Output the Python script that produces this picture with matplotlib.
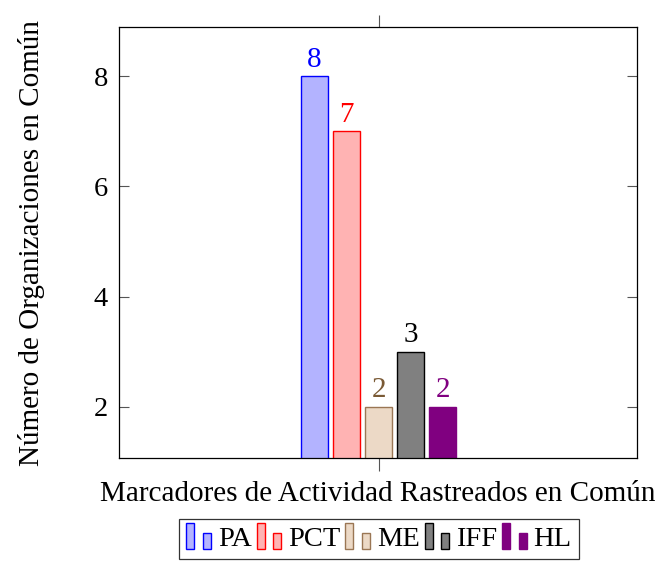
import matplotlib
matplotlib.use("Agg")
import matplotlib.pyplot as plt
from matplotlib.patches import Rectangle
from matplotlib.legend_handler import HandlerBase

plt.rcParams['font.family'] = ['Liberation Serif', 'DejaVu Serif']
plt.rcParams['mathtext.fontset'] = 'stix'

series = ["PA", "PCT", "ME", "IFF", "HL"]
values = [8, 7, 2, 3, 2]
fills = ["#b3b3ff", "#ffb3b3", "#ecd9c6", "#808080", "#800080"]
edges = ["#0000ff", "#ff0000", "#9a7654", "#000000", "#800080"]
label_colors = ["#0000ff", "#ff0000", "#7a5a35", "#000000", "#800080"]
yticks = [2, 4, 6, 8]
xlabel = "Marcadores de Actividad Rastreados en Común"
ylabel = "Número de Organizaciones en Común"

fig = plt.figure(figsize=(6.62, 5.61), dpi=100)
ax = fig.add_axes([119/662, 1-458/561, (637-119)/662, (458-27)/561])

offsets = [-2, -1, 0, 1, 2]
width = 0.84
handles = []
for off, v, fc, ec, lc, name in zip(offsets, values, fills, edges, label_colors, series):
    b = ax.bar(off, v, width=width, color=fc, edgecolor=ec, linewidth=1.0, label=name)
    handles.append(b[0])
    ax.text(off, v + 0.06, str(v), ha='center', va='bottom', color=lc, fontsize=21)

ax.set_xlim(-8.1, 8.05)
ax.set_ylim(1.07, 8.89)
ax.set_yticks(yticks)
ax.set_yticklabels([str(t) for t in yticks])
ax.set_xticks([0])
ax.set_xticklabels([""])
ax.tick_params(axis='y', direction='in', length=7, width=0.8, color='#555555',
               right=True, labelsize=20.5, pad=8)
ax.tick_params(axis='x', direction='out', length=9, width=0.8, color='#555555',
               top=True, labelsize=20.5)
for s in ax.spines.values():
    s.set_linewidth(0.9)
ax.set_xlabel(xlabel, fontsize=21, labelpad=4)
ax.set_ylabel(ylabel, fontsize=21, labelpad=35)


class TwoBarHandler(HandlerBase):
    def create_artists(self, legend, orig_handle, xdescent, ydescent, width, height, fontsize, trans):
        fc = orig_handle.get_facecolor()
        ec = orig_handle.get_edgecolor()
        w = width * 0.32
        r1 = Rectangle((-xdescent, -ydescent - 2), w, height + 4, facecolor=fc, edgecolor=ec, lw=1.0, transform=trans)
        r2 = Rectangle((-xdescent + width * 0.66, -ydescent - 2), w, height * 0.8, facecolor=fc, edgecolor=ec, lw=1.0, transform=trans)
        return [r1, r2]


leg = fig.legend(handles, series, handler_map={h: TwoBarHandler() for h in handles},
                 loc='center', bbox_to_anchor=(379/662, 1-539/561), ncol=5,
                 fontsize=20.5, frameon=True, fancybox=False, edgecolor='black',
                 handlelength=0.88, handletextpad=0.22, columnspacing=0.18,
                 borderpad=0.25, handleheight=0.75)
leg.get_frame().set_linewidth(0.9)

fig.savefig("out.png", dpi=100)
